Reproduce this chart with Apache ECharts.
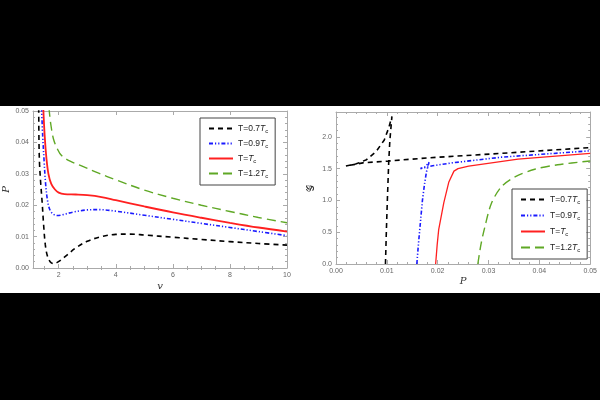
<!DOCTYPE html>
<html>
<head>
<meta charset="utf-8">
<script src="https://cdn.jsdelivr.net/npm/echarts@6/dist/echarts.min.js"></script>
<style>
  html, body { margin: 0; padding: 0; background: #000; }
  #wrap { position: relative; width: 600px; height: 400px; }
  #paper { position: absolute; left: 0; top: 106px; width: 600px; height: 187px; background: #fff; }
  #chart { position: absolute; left: 0; top: 0; width: 600px; height: 400px; }
</style>
</head>
<body>
<div id="wrap">
  <div id="paper"></div>
  <div id="chart"></div>
</div>
<script>
var legendNames = ["T=0.7Tc", "T=0.9Tc", "T=Tc", "T=1.2Tc"];

// left panel: P against v
var vBlack = [1.30, 1.31, 1.33, 1.37, 1.42, 1.47, 1.53, 1.60, 1.70, 1.82, 1.95, 2.1, 2.3, 2.6, 3.0, 3.5, 4.0, 4.5, 5.0, 6.0, 7.0, 8.0, 9.0, 10.0];
var pBlack = [0.051, 0.040, 0.033, 0.027, 0.021, 0.014, 0.0075, 0.0040, 0.0020, 0.0014, 0.0018, 0.0027, 0.0042, 0.0064, 0.0085, 0.0100, 0.0107, 0.0108, 0.0105, 0.0098, 0.0091, 0.0084, 0.0078, 0.0073];

var vBlue = [1.40, 1.44, 1.49, 1.54, 1.60, 1.68, 1.80, 1.95, 2.15, 2.5, 3.0, 3.4, 4.0, 5.0, 6.0, 7.0, 8.0, 9.0, 10.0];
var pBlue = [0.051, 0.042, 0.034, 0.027, 0.022, 0.0188, 0.0172, 0.0167, 0.0170, 0.0178, 0.0185, 0.0186, 0.0181, 0.0168, 0.0155, 0.0142, 0.0129, 0.0116, 0.0103];

var vRed = [1.46, 1.51, 1.57, 1.64, 1.74, 1.87, 2.0, 2.2, 2.6, 3.0, 3.5, 4.0, 5.0, 6.0, 7.0, 8.0, 9.0, 10.0];
var pRed = [0.051, 0.042, 0.035, 0.030, 0.0268, 0.0250, 0.0240, 0.0235, 0.0234, 0.0232, 0.0226, 0.0216, 0.0196, 0.0177, 0.0160, 0.0144, 0.0129, 0.0116];

var vGreen = [1.66, 1.72, 1.82, 1.95, 2.1, 2.4, 2.8, 3.4, 4.0, 5.0, 6.0, 7.0, 8.0, 9.0, 10.0];
var pGreen = [0.051, 0.046, 0.041, 0.038, 0.0358, 0.0340, 0.0325, 0.0302, 0.0281, 0.0248, 0.0222, 0.0200, 0.0180, 0.0161, 0.0144];

// right panel: G against P
var gpBlack = [0.00973, 0.0099, 0.0101, 0.01037, 0.0106, 0.0110, 0.01037, 0.0095, 0.0079, 0.0060, 0.0040, 0.00195, 0.0053, 0.0104, 0.0183, 0.0326, 0.05];
var gBlack = [0.0, 0.5, 1.0, 1.6, 1.95, 2.32, 2.14, 1.95, 1.77, 1.64, 1.575, 1.54, 1.59, 1.62, 1.67, 1.74, 1.83];

var gpBlue = [0.0159, 0.0162, 0.0166, 0.0170, 0.0174, 0.0178, 0.0183, 0.0176, 0.0166, 0.0190, 0.0228, 0.0326, 0.05];
var gBlue = [0.0, 0.3, 0.65, 1.0, 1.25, 1.45, 1.60, 1.53, 1.50, 1.545, 1.59, 1.68, 1.78];

var gpRed = [0.0196, 0.0199, 0.0202, 0.0212, 0.0222, 0.0232, 0.0240, 0.0261, 0.0358, 0.05];
var gRed = [0.0, 0.3, 0.54, 0.96, 1.29, 1.46, 1.50, 1.54, 1.65, 1.74];

var gpGreen = [0.0279, 0.0285, 0.0293, 0.0306, 0.0326, 0.0352, 0.0391, 0.0436, 0.05];
var gGreen = [0.0, 0.3, 0.59, 0.96, 1.22, 1.37, 1.49, 1.56, 1.62];

var vMajor = [2, 4, 6, 8, 10];
var vMinor = [1.5, 2.5, 3, 3.5, 4.5, 5, 5.5, 6.5, 7, 7.5, 8.5, 9, 9.5];

var colors = ["#000000", "#1a1aff", "#ff2020", "#5fa825"];
var styles = [
  { type: [5, 4], width: 1.6 },
  { type: [4, 2, 1.2, 2, 1.2, 2], width: 1.6 },
  { type: "solid", width: 1.8 },
  { type: [9, 5], width: 1.4 }
];

function zip(xs, ys) {
  return xs.map(function(x, i) {
    return [x, ys[i]];
  });
}

var frame = "#aaaaaa",
  tickFont = { fontSize: 7, color: "#666", fontFamily: "Liberation Sans" },
  nameFont = { fontSize: 10, fontStyle: "italic", color: "#333", fontFamily: "DejaVu Serif" };

function axis(o) {
  return Object.assign(
    {
      type: "value",
      axisLine: { show: true, onZero: false, lineStyle: { color: frame, width: 1 } },
      axisTick: { show: true, inside: true, length: 4, lineStyle: { color: frame } },
      minorTick: { show: true, splitNumber: 5, length: 2, lineStyle: { color: frame } },
      axisLabel: Object.assign({ show: false, margin: 4 }, tickFont),
      splitLine: { show: false }
    },
    o
  );
}

function legendText(name) {
  var pre = name.replace("Tc", "");
  return "{n|" + pre + "}{i|T}{s|c}";
}

function legend(pos) {
  return Object.assign(
    {
      data: legendNames,
      orient: "vertical",
      borderColor: "#444",
      borderWidth: 1,
      padding: [6, 7, 6, 8],
      itemGap: 5,
      itemWidth: 24,
      itemHeight: 8,
      itemStyle: { opacity: 0 },
      formatter: legendText,
      textStyle: {
        fontSize: 8.5,
        color: "#222",
        fontFamily: "Liberation Sans",
        rich: {
          n: { fontSize: 8.5, fontFamily: "Liberation Sans", color: "#222" },
          i: { fontSize: 8.5, fontStyle: "italic", fontFamily: "Liberation Sans", color: "#222" },
          s: { fontSize: 6, fontFamily: "Liberation Sans", color: "#222", padding: [5, 0, 0, 0] }
        }
      }
    },
    pos
  );
}

var leftSets = [zip(vBlack, pBlack), zip(vBlue, pBlue), zip(vRed, pRed), zip(vGreen, pGreen)];
var rightSets = [zip(gpBlack, gBlack), zip(gpBlue, gBlue), zip(gpRed, gRed), zip(gpGreen, gGreen)];

var series = [];
leftSets.forEach(function(d, i) {
  series.push({
    name: legendNames[i],
    type: "line",
    xAxisIndex: 0,
    yAxisIndex: 0,
    data: d,
    smooth: 0.35,
    symbol: "none",
    clip: true,
    color: colors[i],
    lineStyle: Object.assign({ color: colors[i] }, styles[i])
  });
});
rightSets.forEach(function(d, i) {
  series.push({
    name: legendNames[i],
    type: "line",
    xAxisIndex: 4,
    yAxisIndex: 2,
    data: d,
    smooth: i == 3 ? 0.3 : false,
    symbol: "none",
    clip: true,
    color: colors[i],
    lineStyle: Object.assign({ color: colors[i] }, styles[i], { width: i == 2 ? 1.3 : styles[i].width })
  });
});

var chart = echarts.init(document.getElementById("chart"));

chart.setOption({
  backgroundColor: "transparent",
  animation: false,
  grid: [
    { left: 33, top: 111, width: 254, height: 157 },
    { left: 336, top: 112, width: 257, height: 152 }
  ],
  legend: [
    legend({ left: 200, top: 118 }),
    legend({ left: 512, top: 189, itemGap: 6 })
  ],
  xAxis: [
    axis({
      gridIndex: 0, position: "bottom", min: 1.1, max: 10,
      name: "v", nameLocation: "middle", nameGap: 13, nameTextStyle: nameFont,
      minorTick: { show: false },
      axisTick: { show: true, inside: true, length: 4, lineStyle: { color: frame }, customValues: vMajor },
      axisLabel: Object.assign({ show: true, margin: 4, customValues: vMajor }, tickFont)
    }),
    axis({
      gridIndex: 0, position: "bottom", min: 1.1, max: 10, axisLine: { show: false },
      minorTick: { show: false },
      axisTick: { show: true, inside: true, length: 2, lineStyle: { color: frame }, customValues: vMinor }
    }),
    axis({
      gridIndex: 0, position: "top", min: 1.1, max: 10,
      minorTick: { show: false },
      axisTick: { show: true, inside: true, length: 4, lineStyle: { color: frame }, customValues: vMajor }
    }),
    axis({
      gridIndex: 0, position: "top", min: 1.1, max: 10, axisLine: { show: false },
      minorTick: { show: false },
      axisTick: { show: true, inside: true, length: 2, lineStyle: { color: frame }, customValues: vMinor }
    }),
    axis({
      gridIndex: 1, position: "bottom", min: 0, max: 0.05, interval: 0.01,
      name: "P", nameLocation: "middle", nameGap: 12, nameTextStyle: nameFont,
      axisLabel: Object.assign({ show: true, margin: 4, formatter: function(v) { return v.toFixed(2); } }, tickFont)
    }),
    axis({ gridIndex: 1, position: "top", min: 0, max: 0.05, interval: 0.01 })
  ],
  yAxis: [
    axis({
      gridIndex: 0, position: "left", min: 0, max: 0.05, interval: 0.01,
      name: "P", nameLocation: "middle", nameGap: 22, nameTextStyle: nameFont,
      axisLabel: Object.assign({ show: true, margin: 4, formatter: function(v) { return v.toFixed(2); } }, tickFont)
    }),
    axis({ gridIndex: 0, position: "right", min: 0, max: 0.05, interval: 0.01 }),
    axis({
      gridIndex: 1, position: "left", min: 0, max: 2.39, interval: 0.5,
      name: "\uD835\uDCA2", nameLocation: "middle", nameGap: 20,
      nameTextStyle: { fontSize: 10, color: "#333", fontFamily: "DejaVu Serif" },
      axisLabel: Object.assign({ show: true, margin: 4, showMaxLabel: false, formatter: function(v) { return v.toFixed(1); } }, tickFont)
    }),
    axis({ gridIndex: 1, position: "right", min: 0, max: 2.39, interval: 0.5 })
  ],
  series: series
});
</script>
</body>
</html>
